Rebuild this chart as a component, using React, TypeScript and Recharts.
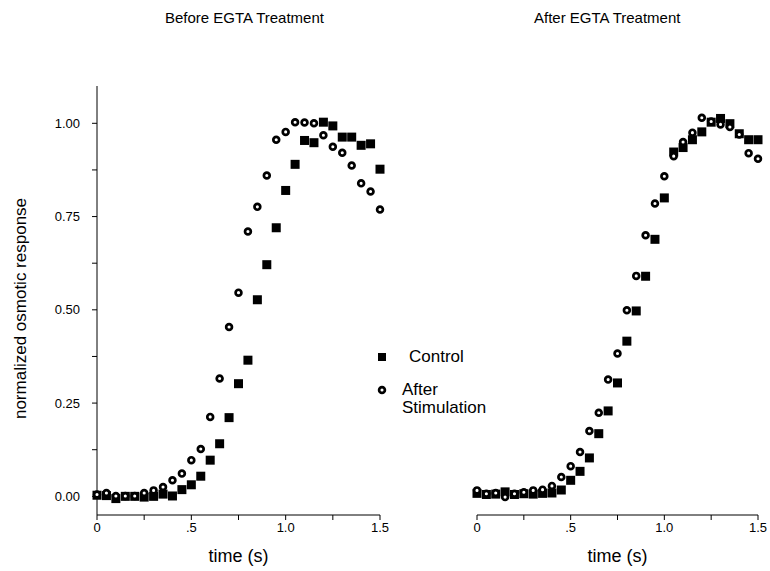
import { Legend, Scatter, ScatterChart, XAxis, YAxis } from "recharts";

const FONT = "'Liberation Sans', Arial, sans-serif";

// sampling times (s)
const times = [
  0, 0.05, 0.1, 0.15, 0.2, 0.25, 0.3, 0.35, 0.4, 0.45, 0.5, 0.55, 0.6, 0.65, 0.7, 0.75,
  0.8, 0.85, 0.9, 0.95, 1.0, 1.05, 1.1, 1.15, 1.2, 1.25, 1.3, 1.35, 1.4, 1.45, 1.5,
];

// Before EGTA
const beforeControl = [
  0.003, 0.002, -0.006, 0.0, 0.0, -0.002, 0.0, 0.006, 0.001, 0.018, 0.031, 0.054, 0.097, 0.141,
  0.211, 0.302, 0.365, 0.527, 0.621, 0.72, 0.82, 0.89, 0.954, 0.948, 1.003, 0.993, 0.963, 0.963,
  0.941, 0.945, 0.877,
];
const beforeStim = [
  0.005, 0.009, 0.001, 0.001, 0.001, 0.009, 0.016, 0.025, 0.043, 0.061, 0.097, 0.127, 0.213,
  0.316, 0.454, 0.546, 0.71, 0.776, 0.86, 0.956, 0.977, 1.003, 1.002, 1.0, 0.968, 0.937, 0.921,
  0.887, 0.839, 0.817, 0.769,
];

// After EGTA
const afterControl = [
  0.008, 0.005, 0.006, 0.012, 0.005, 0.007, 0.006, 0.008, 0.009, 0.017, 0.043, 0.067, 0.103,
  0.168, 0.229, 0.304, 0.416, 0.497, 0.59, 0.689, 0.8, 0.923, 0.935, 0.956, 0.977, 1.003, 1.013,
  0.999, 0.972, 0.956, 0.956,
];
const afterStim = [
  0.016, 0.007, 0.009, -0.002, 0.007, 0.011, 0.016, 0.018, 0.028, 0.052, 0.081, 0.119, 0.175,
  0.224, 0.313, 0.383, 0.499, 0.591, 0.7, 0.785, 0.858, 0.912, 0.95, 0.975, 1.015, 1.005, 0.997,
  0.99, 0.97, 0.92, 0.905,
];

const xTicks = [0, 0.25, 0.5, 0.75, 1.0, 1.25, 1.5];
const xTickLabels: Record<string, string> = { "0": "0", "0.5": ".5", "1": "1.0", "1.5": "1.5" };
const yTicks = [0, 0.125, 0.25, 0.375, 0.5, 0.625, 0.75, 0.875, 1.0];

const toPoints = (vals: number[]) => times.map((t, i) => ({ t, v: vals[i] }));

const SquareDot = (p: any) => (
  <rect x={p.cx - 4.5} y={p.cy - 4.5} width={9} height={9} fill="#000" />
);
const RingDot = (p: any) => (
  <circle cx={p.cx} cy={p.cy} r={2.9} fill="#fff" stroke="#000" strokeWidth={2.7} />
);

const tickStyle = { fontSize: 13, fill: "#000", fontFamily: FONT };

const YLabel = (props: any) => {
  const vb = props.viewBox;
  const cx = 20;
  const cy = vb.y + vb.height / 2 + 8;
  return (
    <text
      x={cx}
      y={cy}
      transform={`rotate(-90 ${cx} ${cy})`}
      textAnchor="middle"
      dominantBaseline="central"
      fontSize={17}
      fontFamily={FONT}
      fill="#000"
    >
      normalized osmotic response
    </text>
  );
};

const LegendBox = () => (
  <div style={{ position: "relative", width: 150, height: 90, fontFamily: FONT, fontSize: 17 }}>
    <div style={{ position: "absolute", left: 8, top: 13, width: 8, height: 8, background: "#000" }} />
    <div style={{ position: "absolute", left: 39, top: 7, lineHeight: "20px" }}>Control</div>
    <svg style={{ position: "absolute", left: 6, top: 44 }} width={12} height={12}>
      <circle cx={6} cy={6} r={2.9} fill="#fff" stroke="#000" strokeWidth={2.7} />
    </svg>
    <div style={{ position: "absolute", left: 32, top: 41, lineHeight: "18px" }}>
      After
      <br />
      Stimulation
    </div>
  </div>
);

function Panel({
  control,
  stim,
  left,
  width,
  margin,
  showY,
}: {
  control: number[];
  stim: number[];
  left: number;
  width: number;
  margin: { top: number; right: number; bottom: number; left: number };
  showY: boolean;
}) {
  return (
    <div style={{ position: "absolute", left, top: 0 }}>
      <ScatterChart width={width} height={571} margin={margin}>
        <XAxis
          type="number"
          dataKey="t"
          domain={[0, 1.5]}
          ticks={xTicks}
          tickFormatter={(v: number) => xTickLabels[String(v)] ?? ""}
          height={56}
          tickSize={5}
          tickMargin={3}
          stroke="#000"
          tick={tickStyle}
          label={{ value: "time (s)", position: "insideBottom", offset: 9, style: { fontSize: 18, fill: "#000", fontFamily: FONT } }}
        />
        <YAxis
          type="number"
          dataKey="v"
          domain={[-0.05, 1.1]}
          ticks={yTicks}
          tickFormatter={(v: number) => (Math.abs((v * 4) % 1) < 1e-9 ? v.toFixed(2) : "")}
          width={97}
          hide={!showY}
          tickSize={5}
          tickMargin={12}
          stroke="#000"
          tick={tickStyle}
          label={showY ? <YLabel /> : undefined}
        />
        {showY && (
          <Legend
            verticalAlign="middle"
            layout="horizontal"
            content={() => <LegendBox />}
            wrapperStyle={{ left: 370, top: 340, width: 150, height: 90 }}
          />
        )}
        <Scatter name="Control" data={toPoints(control)} shape={SquareDot} isAnimationActive={false} />
        <Scatter name="After Stimulation" data={toPoints(stim)} shape={RingDot} isAnimationActive={false} />
      </ScatterChart>
    </div>
  );
}

export default function App() {
  const titleStyle = {
    position: "absolute" as const,
    top: 9,
    fontSize: 15,
    lineHeight: "17px",
    fontFamily: FONT,
    color: "#000",
    whiteSpace: "nowrap" as const,
  };
  return (
    <div style={{ position: "absolute", left: 0, top: 0, width: 770, height: 571, background: "#fff" }}>
      <Panel
        control={beforeControl}
        stim={beforeStim}
        left={0}
        width={400}
        margin={{ top: 86, right: 20, bottom: 0, left: 0 }}
        showY
      />
      <Panel
        control={afterControl}
        stim={afterStim}
        left={400}
        width={370}
        margin={{ top: 86, right: 12, bottom: 0, left: 77 }}
        showY={false}
      />
      <div style={{ ...titleStyle, left: 165 }}>Before EGTA Treatment</div>
      <div style={{ ...titleStyle, left: 534 }}>After EGTA Treatment</div>
    </div>
  );
}
